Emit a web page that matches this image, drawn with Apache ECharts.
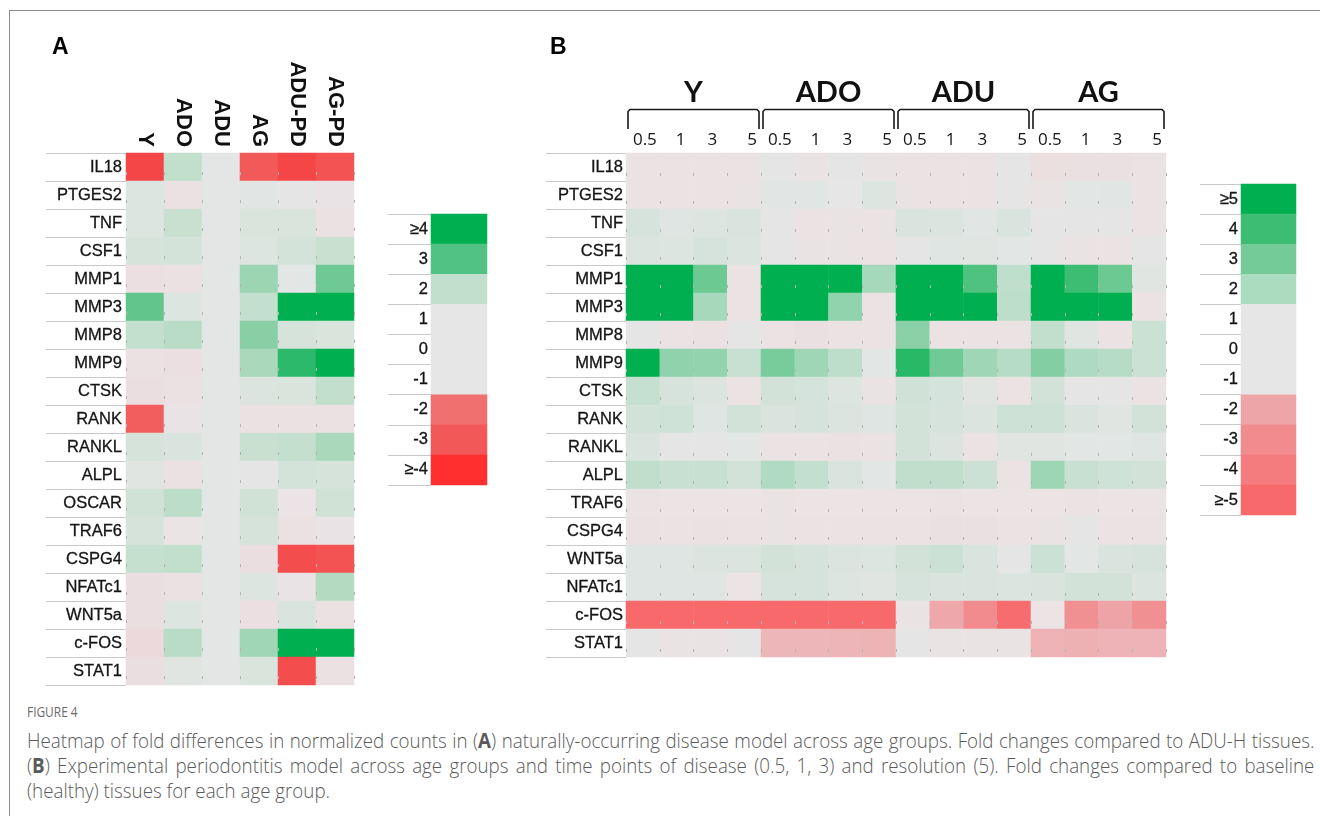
<!DOCTYPE html>
<html>
<head>
<meta charset="utf-8">
<script src="https://cdn.jsdelivr.net/npm/echarts@6/dist/echarts.min.js"></script>
<style>
  html, body { margin: 0; padding: 0; background: #fff; }
  #wrap { position: relative; width: 1320px; height: 816px; overflow: hidden; }
  #frame { position: absolute; left: 9px; top: 10px; width: 1400px; height: 900px;
           border-top: 1px solid #8c8c8c; border-left: 1px solid #8c8c8c; }
  #chart { position: absolute; left: 0; top: 0; width: 1320px; height: 700px; }
  #caption { position: absolute; left: 27px; top: 702px; width: 1288px;
             font-family: 'Open Sans', sans-serif; color: #5a5a5a; }
  #caption .fig { font-size: 14px; line-height: 20px; color: #6a6a6a; width: 300px;
                  transform: scaleX(0.85); transform-origin: 0 0; }
  #caption .ln { font-size: 20.5px; line-height: 25px; font-weight: 300; white-space: nowrap;
                 width: 1407px; transform: scaleX(0.915); transform-origin: 0 0; }
  #caption .j { text-align: justify; text-align-last: justify; }
  #caption .first { margin-top: 6px; }
  #caption b { font-weight: 700; }
</style>
</head>
<body>
<div id="wrap">
  <div id="frame"></div>
  <div id="chart"></div>
  <div id="caption">
    <div class="fig">FIGURE 4</div>
    <div class="ln j first">Heatmap of fold differences in normalized counts in (<b>A</b>) naturally-occurring disease model across age groups. Fold changes compared to ADU-H tissues.</div>
    <div class="ln j">(<b>B</b>) Experimental periodontitis model across age groups and time points of disease (0.5, 1, 3) and resolution (5). Fold changes compared to baseline</div>
    <div class="ln">(healthy) tissues for each age group.</div>
  </div>
</div>
<script>
// ---------- Panel A: naturally-occurring disease, fold vs ADU-H ----------
const genesA = ['IL18','PTGES2','TNF','CSF1','MMP1','MMP3','MMP8','MMP9','CTSK','RANK','RANKL','ALPL','OSCAR','TRAF6','CSPG4','NFATc1','WNT5a','c-FOS','STAT1'];
const groupsA = ['Y','ADO','ADU','AG','ADU-PD','AG-PD'];
const foldA_Y     = [-3.9, 1.2, 1.2, 1.4, -1.04, 3.0, 1.97, -1.02, -1.05, -2.9, 1.45, 1.12, 1.6, 1.45, 1.88, -1.05, -1.05, -1.1, -1.05];
const foldA_ADO   = [2.0, -1.02, 1.8, 1.5, -1.02, 1.2, 2.1, -1.04, -1.02, -0.8, 1.3, -1.02, 2.06, -0.5, 2.0, -1.02, 1.2, 2.1, 1.12];
const foldA_ADU   = [1, 1, 1, 1, 1, 1, 1, 1, 1, 1, 1, 1, 1, 1, 1, 1, 1, 1, 1];
const foldA_AG    = [-3.0, 1.1, 1.33, 1.2, 2.4, 1.97, 2.6, 2.26, 1.27, -1.03, 1.8, 0.5, 1.6, 1.45, -1.05, 1.2, -1.04, 2.35, 1.33];
const foldA_ADUPD = [-3.9, 0.5, 1.33, 1.5, 1.05, 4.5, 1.45, 3.55, 1.33, -1.03, 1.94, 1.5, -0.9, -1.02, -3.6, -0.8, 1.3, 4.5, -3.6];
const foldA_AGPD  = [-3.3, -0.8, -1.02, 1.8, 2.86, 4.5, 1.33, 4.2, 2.0, -1.03, 2.26, 1.45, 1.6, -0.8, -3.3, 2.15, -1.02, 4.5, -1.03];
const legendLabelsA = ['≥4', '3', '2', '1', '0', '-1', '-2', '-3', '≥-4'];
const legendValuesA = [4, 3, 2, 1, 0, -1, -2, -3, -4];

// ---------- Panel B: experimental periodontitis, fold vs baseline ----------
const genesB = ['IL18','PTGES2','TNF','CSF1','MMP1','MMP3','MMP8','MMP9','CTSK','RANK','RANKL','ALPL','TRAF6','CSPG4','WNT5a','NFATc1','c-FOS','STAT1'];
const groupsB = ['Y','ADO','ADU','AG'];
const timepoints = ['0.5','1','3','5'];
const foldB_Y_05   = [-1.02,-1.02,1.27,1.17,5,5,0.5,5,1.6,1.37,1.2,1.71,-1.02,-1.03,1.1,1.1,-5,0.5];
const foldB_Y_1    = [-1.02,-1.02,1.1,1.13,5,5,-1.02,2.55,1.27,1.4,0.5,1.54,-1.0,-1.02,1.1,1.1,-5,-0.8];
const foldB_Y_3    = [-1.02,-1.02,1.13,1.27,3.15,2.17,-1.03,2.48,1.17,1.1,0.7,1.54,-1.0,-1.03,1.17,1.1,-5,-0.8];
const foldB_Y_5    = [-1.02,-0.8,1.2,1.17,-1.02,-1.02,0.5,1.54,-1.02,1.33,1.03,1.33,-1.0,-1.02,1.17,-1.0,-5,0.5];
const foldB_ADO_05 = [0.6,1.05,0.6,0.6,5,5,-1.02,2.93,1.35,1.2,-1.02,2.0,-0.8,-0.8,1.33,1.27,-5,-1.71];
const foldB_ADO_1  = [-0.8,1.05,-1.02,-0.8,5,5,-1.05,2.28,1.3,1.27,-1.02,1.63,-1.0,-1.02,1.27,1.27,-5,-1.73];
const foldB_ADO_3  = [0.6,0.8,-0.8,-0.8,5,2.53,-1.02,1.77,1.13,1.17,-1.03,1.2,-1.0,-1.02,1.17,1.13,-5,-1.74];
const foldB_ADO_5  = [-0.8,1.13,-1.02,-1.02,2.17,-1.02,-1.02,1.04,-1.02,1.1,-1.02,1.04,-1.0,-1.02,1.13,1.08,-5,-1.76];
const foldB_ADU_05 = [-1.02,-1.02,1.2,0.6,5,5,2.63,4.34,1.38,1.33,1.33,1.71,-1.0,-1.02,1.33,1.27,-0.8,0.6];
const foldB_ADU_1  = [-1.02,-1.02,1.17,1.1,5,5,-1.02,3.09,1.3,1.27,1.17,1.71,-1.02,-1.05,1.46,1.2,-1.95,-0.8];
const foldB_ADU_3  = [-1.02,-1.02,1.05,1.08,3.67,5,-1.02,2.28,1.08,1.17,-1.02,1.46,-1.0,-1.05,1.2,1.2,-3.0,-0.8];
const foldB_ADU_5  = [0.6,0.6,1.2,1.04,1.71,1.77,-1.02,1.88,-1.02,1.42,1.08,-1.02,-1.0,-1.02,0.6,1.17,-4.78,-0.8];
const foldB_AG_05  = [-1.06,-0.8,0.6,0.5,5,5,1.65,2.75,1.33,1.42,1.08,2.32,-1.0,-0.8,1.46,1.2,-0.9,-1.77];
const foldB_AG_1   = [-1.05,1.04,0.6,-0.8,4.0,5,1.08,2.05,0.6,1.2,1.04,1.54,-1.02,0.6,1.04,1.33,-2.8,-1.82];
const foldB_AG_3   = [-1.05,1.06,0.6,-1.02,3.15,5,-1.02,1.88,0.6,1.08,1.04,1.4,-1.0,-1.02,1.2,1.33,-2.08,-1.77];
const foldB_AG_5   = [-1.02,-1.02,-1.02,0.6,1.08,-1.02,1.48,1.48,-1.02,1.33,1.1,1.33,-1.0,-1.02,1.27,1.17,-2.8,-1.77];
const legendLabelsB = ['≥5', '4', '3', '2', '1', '0', '-1', '-2', '-3', '-4', '≥-5'];
const legendValuesB = [5, 4, 3, 2, 1, 0, -1, -2, -3, -4, -5];

// ---------- colour scales ----------
const scaleA = ['#f44444','#f25a5a','#f08080','#ebe3e5','#e8e4e5','#e4e6e5','#c2dfcc','#62c58b','#00b050'];
const scaleB = ['#f8696b','#f47b7e','#f28b8e','#eea5a8','#ebe3e4','#e8e4e5','#e4e6e5','#b0dbc2','#74cb98','#3dbd73','#00b050'];
const legendColorsA = ['#00b050','#52c184','#c1dfcd','#e6e6e6','#e6e6e6','#e6e6e6','#f07070','#f25858','#ff2f2f'];
const legendColorsB = ['#00b050','#3dbd73','#74cb98','#acdcc0','#e6e6e6','#e6e6e6','#e6e6e6','#eea5a8','#f28b8e','#f47b7e','#f7696b'];

// ---------- assemble series data ----------
const columnsA = [foldA_Y, foldA_ADO, foldA_ADU, foldA_AG, foldA_ADUPD, foldA_AGPD];
const dataA = [];
columnsA.forEach((col, c) => col.forEach((v, r) => dataA.push([c, r, v])));

const columnsB = [foldB_Y_05, foldB_Y_1, foldB_Y_3, foldB_Y_5,
                  foldB_ADO_05, foldB_ADO_1, foldB_ADO_3, foldB_ADO_5,
                  foldB_ADU_05, foldB_ADU_1, foldB_ADU_3, foldB_ADU_5,
                  foldB_AG_05, foldB_AG_1, foldB_AG_3, foldB_AG_5];
const keysB = [];
groupsB.forEach(g => timepoints.forEach(t => keysB.push(g + ' ' + t)));
const dataB = [];
columnsB.forEach((col, c) => col.forEach((v, r) => dataB.push([c, r, v])));

const legDataA = legendValuesA.map((v, i) => [0, i, v]);
const legDataB = legendValuesB.map((v, i) => [0, i, v]);

const FONT = 'Liberation Sans';
const labelText = { fontFamily: FONT, fontSize: 16.5, color: '#141414',
                    textBorderColor: '#141414', textBorderWidth: 0.3 };
const sepLine = { color: '#c9c9c9', width: 1 };
const cellTicks = (offset) => ({ show: true, lineStyle: { color: '#b3b3b3', width: 1, type: [3, 25], dashOffset: offset } });

const tpRich = {};
[2, 4, 2, 8].forEach((d, i) => {
  tpRich['t' + i] = { fontFamily: 'Open Sans', fontSize: 17, color: '#141414', padding: [0, 0, 0, d * 2] };
});

const chart = echarts.init(document.getElementById('chart'));

const option = {
  animation: false,
  grid: [
    { left: 126, top: 153, width: 228, height: 532 },   // A heatmap
    { left: 431, top: 214, width: 56,  height: 271 },   // A key
    { left: 626, top: 153, width: 540, height: 504 },   // B heatmap
    { left: 626, top: 153, width: 540, height: 504 },   // B age-group header
    { left: 1241, top: 184, width: 55, height: 331 }    // B key
  ],
  xAxis: [
    { gridIndex: 0, type: 'category', data: groupsA, position: 'top', z: 5,
      axisLine: { show: false }, axisTick: { show: false },
      splitLine: cellTicks(9),
      axisLabel: { rotate: 90, margin: 6, fontFamily: FONT, fontWeight: 'bold', fontSize: 22, color: '#111' } },
    { gridIndex: 1, type: 'category', data: [''], show: false },
    { gridIndex: 2, type: 'category', data: keysB, position: 'top', z: 5,
      axisLine: { show: false }, axisTick: { show: false },
      splitLine: cellTicks(8),
      axisLabel: { margin: 13, verticalAlign: 'middle', interval: 0,
                   formatter: (v, i) => '{t' + (i % 4) + '|' + timepoints[i % 4] + '}', rich: tpRich } },
    { gridIndex: 3, type: 'category', data: groupsB, position: 'top',
      axisLine: { show: false }, axisTick: { show: false }, splitLine: { show: false },
      axisLabel: { margin: 60, verticalAlign: 'middle', fontFamily: 'Lato', fontWeight: 'bold', fontSize: 29, color: '#111' } },
    { gridIndex: 4, type: 'category', data: [''], show: false }
  ],
  yAxis: [
    { gridIndex: 0, type: 'category', data: genesA, inverse: true,
      axisLine: { show: false }, axisTick: { show: true, length: 80, lineStyle: sepLine },
      axisLabel: Object.assign({ margin: 4, interval: 0 }, labelText) },
    { gridIndex: 1, type: 'category', data: legendLabelsA, inverse: true,
      axisLine: { show: false }, axisTick: { show: true, length: 43, lineStyle: sepLine },
      axisLabel: Object.assign({ margin: 3, interval: 0 }, labelText) },
    { gridIndex: 2, type: 'category', data: genesB, inverse: true,
      axisLine: { show: false }, axisTick: { show: true, length: 80, lineStyle: sepLine },
      axisLabel: Object.assign({ margin: 3, interval: 0 }, labelText) },
    { gridIndex: 3, type: 'category', data: genesB, show: false },
    { gridIndex: 4, type: 'category', data: legendLabelsB, inverse: true,
      axisLine: { show: false }, axisTick: { show: true, length: 41, lineStyle: sepLine },
      axisLabel: Object.assign({ margin: 3, interval: 0 }, labelText) }
  ],
  visualMap: [
    { type: 'continuous', seriesIndex: 0, min: -4, max: 4, show: false, inRange: { color: scaleA } },
    { type: 'piecewise', seriesIndex: 1, show: false,
      pieces: legendValuesA.map((v, i) => ({ value: v, color: legendColorsA[i] })) },
    { type: 'continuous', seriesIndex: 2, min: -5, max: 5, show: false, inRange: { color: scaleB } },
    { type: 'piecewise', seriesIndex: 3, show: false,
      pieces: legendValuesB.map((v, i) => ({ value: v, color: legendColorsB[i] })) }
  ],
  series: [
    { type: 'heatmap', xAxisIndex: 0, yAxisIndex: 0, data: dataA, emphasis: { disabled: true } },
    { type: 'heatmap', xAxisIndex: 1, yAxisIndex: 1, data: legDataA, emphasis: { disabled: true } },
    { type: 'heatmap', xAxisIndex: 2, yAxisIndex: 2, data: dataB, emphasis: { disabled: true } },
    { type: 'heatmap', xAxisIndex: 4, yAxisIndex: 4, data: legDataB, emphasis: { disabled: true } }
  ],
  graphic: [
    { id: 'panelA', type: 'text', left: 52, top: 36,
      style: { text: 'A', fontFamily: FONT, fontWeight: 'bold', fontSize: 23, fill: '#000' } },
    { id: 'panelB', type: 'text', left: 550, top: 36,
      style: { text: 'B', fontFamily: FONT, fontWeight: 'bold', fontSize: 23, fill: '#000' } }
  ]
};

chart.setOption(option);

// Brackets over each age group, spanning its four time-point columns
const c0 = chart.convertToPixel({ xAxisIndex: 2 }, 0);
const c1 = chart.convertToPixel({ xAxisIndex: 2 }, 1);
const band = c1 - c0;
const brackets = groupsB.map((g, gi) => {
  const x0 = chart.convertToPixel({ xAxisIndex: 2 }, gi * 4) - band / 2 + 2;
  const x1 = chart.convertToPixel({ xAxisIndex: 2 }, gi * 4 + 3) + band / 2 - 2;
  return {
    id: 'bracket' + gi, type: 'polyline',
    shape: { points: [[x0, 129], [x0, 111.5], [x0 + 2, 109.5], [x1 - 2, 109.5], [x1, 111.5], [x1, 129]] },
    style: { stroke: '#1a1a1a', lineWidth: 1.6, fill: null }
  };
});
chart.setOption({ graphic: brackets });
</script>
</body>
</html>
